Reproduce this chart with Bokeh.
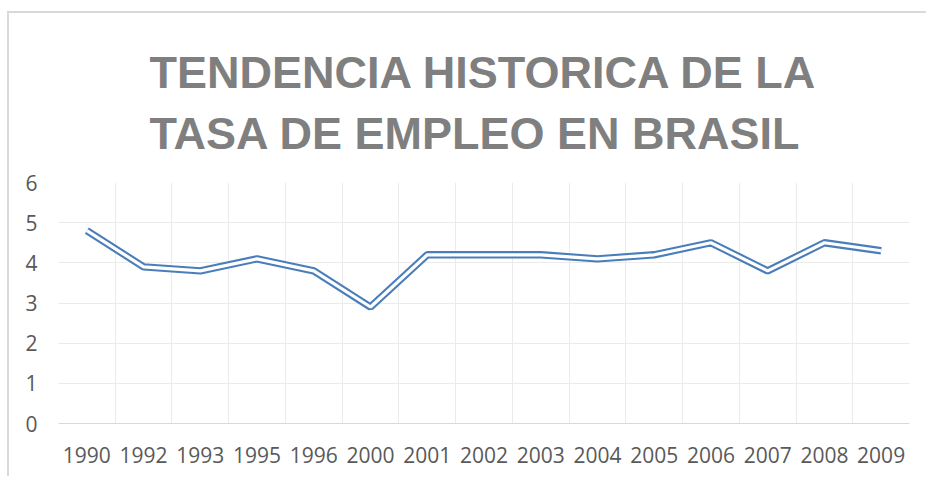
from bokeh.plotting import figure
from bokeh.models import FixedTicker, Range1d, Title
from bokeh.embed import file_html
from bokeh.resources import INLINE

years = ["1990", "1992", "1993", "1995", "1996", "2000", "2001", "2002",
         "2003", "2004", "2005", "2006", "2007", "2008", "2009"]
tasa = [4.8, 3.9, 3.8, 4.1, 3.8, 2.9, 4.2, 4.2, 4.2, 4.1, 4.2, 4.5, 3.8, 4.5, 4.3]
y_ticks = [0, 1, 2, 3, 4, 5, 6]
title_lines = ["TENDENCIA HISTORICA DE LA", "TASA DE EMPLEO EN BRASIL"]

idx = list(range(len(years)))

p = figure(width=919, height=465, output_backend="svg", toolbar_location=None,
           x_range=Range1d(-0.5, len(years) - 0.5), y_range=Range1d(0, 6),
           min_border_left=49, min_border_right=19, min_border_bottom=55,
           min_border_top=169,
           styles={"border-left": "2px solid #d9d9d9", "border-top": "2px solid #d9d9d9",
                   "margin-left": "7px", "margin-top": "11px"})

p.title.text = "\n".join(title_lines)
p.title.align = "center"
p.title.text_font = "Liberation Sans"
p.title.text_font_style = "bold"
p.title.text_font_size = "45px"
p.title.text_color = "#7f7f7f"
p.title.text_line_height = 1.19
p.title.standoff = 47

# small invisible spacer between the title and the plot frame
spacer = Title(text=" ", text_font_size="1px", text_alpha=0, standoff=7)
p.add_layout(spacer, "above")

p.outline_line_color = None
p.background_fill_color = "white"
p.border_fill_color = "white"

# axes
p.xaxis.ticker = FixedTicker(ticks=idx)
p.xaxis.major_label_overrides = {i: y for i, y in zip(idx, years)}
p.yaxis.ticker = FixedTicker(ticks=y_ticks)
for ax in (p.xaxis[0], p.yaxis[0]):
    ax.major_tick_line_color = None
    ax.minor_tick_line_color = None
    ax.major_label_text_font = "Open Sans"
    ax.major_label_text_font_size = "21px"
    ax.major_label_text_color = "#595959"
p.yaxis.axis_line_color = None
p.xaxis.axis_line_color = "#d9d9d9"
p.xaxis.axis_line_width = 1
p.xaxis.major_label_standoff = 17
p.yaxis.major_label_standoff = 15

# grids
p.xgrid.ticker = FixedTicker(ticks=[i - 0.5 for i in range(len(years) + 1)])
p.xgrid.grid_line_color = "#ebebeb"
p.xgrid.grid_line_width = 1
p.ygrid.ticker = FixedTicker(ticks=y_ticks)
p.ygrid.grid_line_color = "#ebebeb"
p.ygrid.grid_line_width = 1

# double (compound) line
p.line(idx, tasa, line_color="#4A7EBB", line_width=7.4)
p.line(idx, tasa, line_color="white", line_width=3.2)

open("out.html", "w").write(file_html(p, INLINE))
